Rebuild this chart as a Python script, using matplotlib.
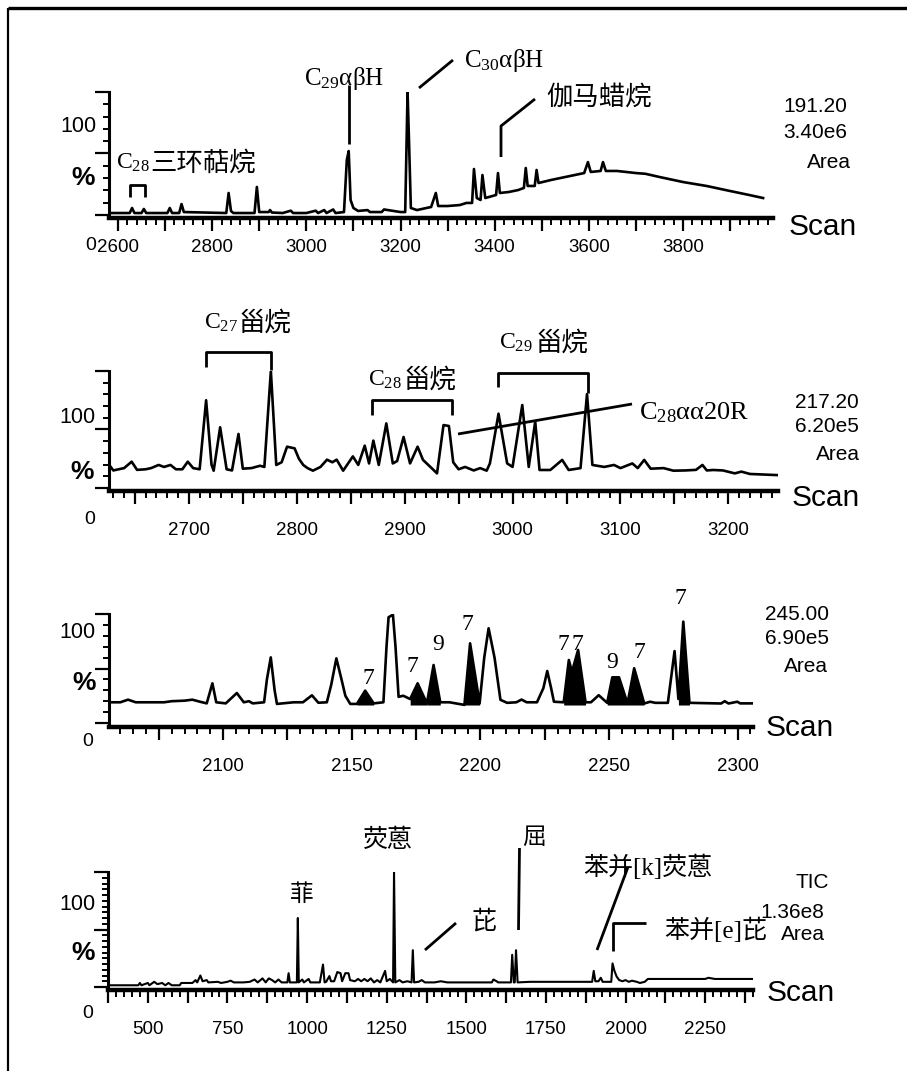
import numpy as np
import matplotlib
matplotlib.use('Agg')
import matplotlib.pyplot as plt
from matplotlib.lines import Line2D

plt.rcParams['mathtext.fontset'] = 'custom'
plt.rcParams['mathtext.rm'] = 'Liberation Serif'
plt.rcParams['mathtext.it'] = 'Liberation Serif:italic'
plt.rcParams['mathtext.bf'] = 'Liberation Serif:bold'

# ---- data (scan, relative %) ----
# m/z 191 (hopanes)
p1_scan = [2581, 2625, 2630, 2635, 2650, 2655, 2660, 2705, 2710, 2715, 2730, 2735, 2740,
           2830, 2835, 2840, 2845, 2890, 2895, 2900, 2920, 2923, 2927, 2950, 2967, 2972,
           3000, 3020, 3025, 3038, 3043, 3057, 3062, 3080, 3086, 3090, 3094, 3100, 3110,
           3130, 3135, 3160, 3165, 3200, 3210, 3215, 3218, 3222, 3235, 3255, 3265, 3275,
           3280, 3300, 3326, 3340, 3352, 3356, 3362, 3370, 3374, 3380, 3395, 3403, 3407,
           3411, 3430, 3450, 3462, 3466, 3470, 3485, 3489, 3493, 3520, 3550, 3590, 3598,
           3604, 3625, 3630, 3636, 3660, 3700, 3720, 3750, 3800, 3850, 3900, 3940, 3970]
p1_val = [1.6, 1.6, 5.7, 1.6, 1.6, 4.9, 1.6, 1.6, 5.7, 1.6, 1.6, 8.9, 2.4,
          1.6, 17.9, 3.3, 1.6, 1.6, 22.8, 2.4, 2.4, 4.0, 2.0, 1.6, 3.5, 1.6,
          1.6, 3.5, 1.6, 4.0, 1.6, 4.5, 1.6, 2.4, 44.7, 52.0, 12.2, 5.7, 3.3,
          4.0, 2.4, 2.4, 4.5, 2.4, 2.4, 100.0, 61.0, 5.7, 4.0, 5.7, 6.5, 17.9,
          7.3, 7.3, 8.1, 9.8, 9.8, 37.4, 13.8, 12.2, 32.5, 13.8, 15.4, 16.3, 34.1,
          17.9, 18.7, 20.3, 22.0, 38.2, 23.6, 23.6, 36.6, 26.0, 28.5, 30.9, 34.1, 43.0,
          35.0, 35.8, 43.0, 35.8, 35.8, 34.1, 33.5, 30.9, 26.8, 23.6, 19.5, 16.3, 13.8]

# m/z 217 (steranes)
p2_scan = [2626, 2630, 2640, 2647, 2652, 2660, 2665, 2672, 2677, 2683, 2688, 2694, 2699,
           2704, 2710, 2716, 2721, 2723, 2729, 2735, 2740, 2746, 2750, 2758, 2766, 2770,
           2776, 2781, 2786, 2791, 2798, 2802, 2806, 2810, 2815, 2822, 2828, 2833, 2837,
           2843, 2852, 2857, 2863, 2867, 2871, 2876, 2883, 2889, 2893, 2899, 2905, 2912,
           2917, 2925, 2930, 2936, 2941, 2945, 2950, 2956, 2964, 2970, 2976, 2979, 2987,
           2995, 3000, 3009, 3015, 3021, 3025, 3035, 3046, 3052, 3063, 3069, 3074, 3085,
           3094, 3100, 3111, 3116, 3122, 3128, 3140, 3149, 3160, 3170, 3176, 3180, 3186,
           3195, 3206, 3212, 3220, 3246]
p2_val = [20, 15, 17, 22.5, 15.5, 16, 17, 19.7, 18, 19.7, 16, 16, 22.5,
          17, 16, 75, 20, 14.8, 51.9, 16, 15, 46.2, 16.5, 17, 19, 18,
          100, 19.7, 22, 35.3, 33.9, 25, 19.7, 17, 14.8, 18, 24.2, 22, 24.2,
          14.8, 27, 19.7, 36.2, 21, 40.5, 19.7, 55.2, 21, 23, 43.6, 21, 35.3,
          24, 17, 12.5, 53.8, 53, 22, 16, 18, 15, 17, 14.8, 21, 63.5,
          21, 18, 70.9, 18, 56.7, 15.4, 15.4, 24, 15.4, 17, 80.3, 19.7, 18,
          19.7, 17, 21, 17, 24, 16.5, 17, 14.8, 15, 15.5, 19.7, 15, 15.4,
          15, 12.5, 14, 12, 11]

# m/z 245
p3_scan = [2055.6, 2060, 2063, 2066, 2068, 2077, 2080, 2085, 2088, 2091, 2093.6, 2095.8,
           2097.3, 2101, 2105.3, 2108, 2110, 2111.5, 2115.9, 2117, 2118.5, 2120, 2120.9,
           2127.4, 2131, 2134.5, 2137, 2140.3, 2142, 2144, 2146, 2147.5, 2149.4, 2152,
           2155.2, 2158.5, 2162.3, 2163.5, 2164.3, 2166, 2167, 2168.2, 2170, 2172.7,
           2175.6, 2179.2, 2181.8, 2184.4, 2188, 2193.8, 2196, 2199.7, 2201.5, 2203.2,
           2205.5, 2207.8, 2210.4, 2214, 2216, 2218, 2222, 2224.5, 2226, 2227.5, 2228.6,
           2232.4, 2234.4, 2235.6, 2238, 2240.9, 2243, 2246, 2249.3, 2251.3, 2253.9,
           2257.2, 2259.8, 2263.7, 2266, 2268, 2272.9, 2275.5, 2277, 2278.9, 2281.3,
           2293.6, 2295, 2296.5, 2299.9, 2301, 2306]
p3_val = [19, 19, 21.4, 19, 19, 19, 20, 20.5, 21.4, 19.5, 18, 36.4,
          19, 18, 27.5, 19, 20, 18, 19, 40, 60.2, 30, 17.5,
          19, 19, 25.4, 18.6, 19, 35, 59.3, 40, 25, 17.5, 17.5,
          29.7, 18, 19, 70, 97, 99.4, 70, 24, 25, 22,
          36.4, 18, 53.2, 19, 19, 16.6, 73.1, 18, 60, 86.9,
          60, 21.3, 18.5, 19, 21.5, 19, 19, 32, 47.7, 32, 19.5,
          19, 57.8, 47, 67, 19, 19, 25.5, 18.5, 41.9, 41.9,
          17.9, 50.2, 17.9, 19.5, 18.5, 18.5, 66, 22, 93, 18.5,
          17.9, 20, 17.9, 19.5, 18, 18]
# shaded (odd-numbered) peaks: scan ranges
p3_fill = [(2151, 2159), (2172, 2179.2), (2179.2, 2185), (2193.8, 2200),
           (2232.4, 2241), (2249.3, 2257.2), (2257.2, 2264), (2277, 2281.3)]
p3_num = ['7', '7', '9', '7', '7', '7', '9', '7', '7']

# TIC
p4_scan = [375, 470, 475, 480, 500, 505, 520, 530, 545, 555, 565, 575, 600, 605, 640, 650,
           655, 665, 672, 685, 690, 720, 730, 750, 760, 770, 800, 820, 835, 845, 860, 870,
           880, 890, 900, 910, 920, 938, 942, 946, 960, 968, 971, 974, 985, 990, 1005, 1010,
           1040, 1050, 1055, 1060, 1070, 1075, 1085, 1095, 1105, 1110, 1120, 1130, 1135,
           1150, 1160, 1170, 1180, 1190, 1200, 1210, 1220, 1230, 1245, 1250, 1260, 1270,
           1273, 1277, 1290, 1300, 1315, 1328, 1332, 1336, 1350, 1360, 1370, 1400, 1420,
           1440, 1500, 1580, 1585, 1595, 1600, 1640, 1644, 1649, 1652, 1656, 1661, 1700,
           1800, 1895, 1900, 1905, 1915, 1922, 1928, 1955, 1959, 1965, 1972, 1980, 1990,
           2000, 2010, 2020, 2035, 2045, 2060, 2070, 2250, 2260, 2280, 2400]
p4_val = [1.5, 1.5, 3.5, 1.5, 3.5, 1.5, 4.5, 2.5, 3.5, 1.5, 3.5, 1.5, 1.5, 3.5, 3.5, 6,
          4, 10, 5, 6, 4, 4.5, 3.5, 4.5, 5.5, 4, 4, 4.5, 6.5, 4, 7.5, 4,
          7.5, 6, 4, 6.5, 4, 4, 12, 4, 4, 4, 60, 4, 6.5, 4, 7, 4,
          4, 19.5, 4, 4.5, 9.5, 5, 5, 13, 12, 5, 12, 12, 6,
          5, 7, 5, 7, 5, 7.5, 4, 6, 4, 14, 5, 7, 4,
          100, 4, 6, 4, 5, 4, 32, 4, 4.5, 6, 4, 4, 5,
          4, 4, 4, 6.5, 5, 4, 4, 28, 4, 4, 32, 4, 4.5,
          4.5, 4.5, 14, 5, 5, 8, 4.5, 4.5, 20.5, 14, 9, 6, 5,
          6, 4.5, 5.5, 4.5, 3.5, 4.5, 7, 7, 8, 7, 7]

W, H = 907, 1071
fig = plt.figure(figsize=(W / 100, H / 100), dpi=100)

SANS = 'Liberation Sans'
SERIF = 'Liberation Serif'
CJK = [SERIF, 'Noto Sans CJK SC']


def fx(x):
    return x / W


def fy(y):
    return 1 - y / H


def ftext(x, y, s, size, family=SANS, ha='center', **kw):
    fig.text(fx(x), fy(y), s, fontsize=size, family=family, ha=ha, va='center', **kw)


def fline(xs, ys, lw=1.6):
    fig.add_artist(Line2D([fx(v) for v in xs], [fy(v) for v in ys], color='black',
                          lw=lw, transform=fig.transFigure, solid_capstyle='butt'))


def make_axes(left, right, top, zero, xaxis, xlim, long_step, minor_step, labels,
              ymin_step, pad):
    ax = fig.add_axes([fx(left), fy(xaxis), fx(right) - fx(left), fy(top) - fy(xaxis)])
    ppp = (zero - top) / 100.0
    ax.set_ylim(-(xaxis - zero) / ppp, 100)
    ax.set_xlim(*xlim)
    for s in ['top', 'right']:
        ax.spines[s].set_visible(False)
    ax.spines['left'].set_bounds(0, 100)
    ax.spines['left'].set_linewidth(2.2)
    ax.spines['bottom'].set_linewidth(3.2)
    first = np.ceil(xlim[0] / long_step) * long_step
    longs = np.arange(first, xlim[1] + 0.01, long_step)
    ax.set_xticks(longs)
    ax.set_xticklabels([str(int(v)) if int(v) in labels else '' for v in longs],
                       fontsize=13.5, family=SANS)
    first_m = np.ceil(xlim[0] / minor_step) * minor_step
    ax.set_xticks(np.arange(first_m, xlim[1] + 0.01, minor_step), minor=True)
    ax.set_yticks([0, 50, 100])
    ax.set_yticklabels([])
    ax.set_yticks(np.arange(0, 100.1, ymin_step), minor=True)
    ax.tick_params(axis='x', which='major', direction='out', length=9, width=1.6, pad=pad)
    ax.tick_params(axis='x', which='minor', direction='out', length=5, width=1.4)
    ax.tick_params(axis='y', which='major', direction='out', length=10, width=1.6)
    ax.tick_params(axis='y', which='minor', direction='out', length=4.5, width=1.4)
    ax.patch.set_alpha(0)
    return ax


# frame
fline([8, 907], [8, 8], lw=2.4)
fline([8, 8], [8, 1071], lw=1.6)

# ---------- panel 1: m/z 191 ----------
ax1 = make_axes(109, 773, 92, 215, 218, (2581, 3991), 100, 20,
                [2600, 2800, 3000, 3200, 3400, 3600, 3800], 10, 6)
ax1.plot(p1_scan, p1_val, color='black', lw=1.9)
ftext(78, 127, '100', 15.5)
ftext(83, 178, '%', 19, weight='bold')
ftext(91, 246, '0', 14)
ftext(815, 106, '191.20', 15)
ftext(815, 133, '3.40e6', 15)
ftext(851, 162, 'Area', 15, ha='right')
ftext(789, 227, 'Scan', 21.5, ha='left')
ftext(116, 163, r'C$_{28}$', 17, family=SERIF, ha='left')
ftext(150, 163, '三环萜烷', 19, family=CJK, ha='left')
fline([130, 130, 145, 145], [197, 185, 185, 197], lw=2)
ftext(304, 78, r'C$_{29}$αβH', 18, family=SERIF, ha='left')
fline([349, 349], [85, 144], lw=2)
ftext(464, 60, r'C$_{30}$αβH', 18, family=SERIF, ha='left')
fline([419, 453], [88, 60], lw=2)
ftext(546, 97, '伽马蜡烷', 19, family=CJK, ha='left')
fline([501, 501, 535], [157, 126, 99], lw=2)

# ---------- panel 2: m/z 217 ----------
ax2 = make_axes(109, 778, 371, 488, 491, (2626, 3246), 50, 10,
                [2700, 2800, 2900, 3000, 3100, 3200], 10, 13)
ax2.plot(p2_scan, p2_val, color='black', lw=1.9)
ftext(77, 418, '100', 15.5)
ftext(82, 472, '%', 19, weight='bold')
ftext(90, 520, '0', 14)
ftext(827, 402, '217.20', 15)
ftext(827, 427, '6.20e5', 15)
ftext(860, 455, 'Area', 15, ha='right')
ftext(792, 498, 'Scan', 21.5, ha='left')
ftext(204, 323, r'C$_{27}$', 17, family=SERIF, ha='left')
ftext(239, 323, '甾烷', 19, family=CJK, ha='left')
fline([206, 206, 271, 271], [367, 352, 352, 370], lw=2)
ftext(368, 380, r'C$_{28}$', 17, family=SERIF, ha='left')
ftext(403, 380, '甾烷', 19, family=CJK, ha='left')
fline([372, 372, 452, 452], [415, 400, 400, 415], lw=2)
ftext(499, 343, r'C$_{29}$', 17, family=SERIF, ha='left')
ftext(536, 343, '甾烷', 19, family=CJK, ha='left')
fline([498, 498, 588, 588], [387, 373, 373, 393], lw=2)
ftext(639, 413, r'C$_{28}$αα20R', 19, family=SERIF, ha='left')
fline([458, 632], [434, 404], lw=2)

# ---------- panel 3: m/z 245 ----------
ax3 = make_axes(109, 753, 614, 723, 727, (2055.6, 2306), 25, 5,
                [2100, 2150, 2200, 2250, 2300], 10, 13)
s3 = np.array(p3_scan)
v3 = np.array(p3_val)
for a, b in p3_fill:
    m = (s3 >= a) & (s3 <= b)
    ax3.fill_between(s3[m], v3[m], 16.5, color='black', lw=0)
ax3.plot(p3_scan, p3_val, color='black', lw=1.9)
ftext(77, 633, '100', 15.5)
ftext(84, 683, '%', 19, weight='bold')
ftext(88, 742, '0', 14)
ftext(797, 614, '245.00', 15)
ftext(797, 639, '6.90e5', 15)
ftext(828, 666, 'Area', 15, ha='right')
ftext(766, 728, 'Scan', 21.5, ha='left')
num_pos = [(368, 678), (412, 666), (438, 644), (467, 625), (563, 644), (577, 644),
           (612, 662), (639, 653), (680, 599)]
for (x, y), t in zip(num_pos, p3_num):
    ftext(x, y, t, 17, family=SERIF)

# ---------- panel 4: TIC ----------
ax4 = make_axes(108, 753, 872, 987, 990, (375, 2400), 125, 25,
                [500, 750, 1000, 1250, 1500, 1750, 2000, 2250], 5, 13)
ax4.plot(p4_scan, p4_val, color='black', lw=1.5)
ftext(77, 905, '100', 15.5)
ftext(83, 953, '%', 19, weight='bold')
ftext(88, 1013, '0', 14)
ftext(812, 883, 'TIC', 15)
ftext(792, 912, '1.36e8', 15)
ftext(825, 935, 'Area', 15, ha='right')
ftext(767, 993, 'Scan', 21.5, ha='left')
ftext(302, 895, '菲', 17, family=CJK)
ftext(388, 840, '荧蒽', 18, family=CJK)
ftext(484, 922, '芘', 18, family=CJK)
fline([425, 456], [950, 923], lw=2)
ftext(534, 839, '屈', 17, family=CJK)
fline([518.5, 519.5], [930, 848], lw=2)
ftext(648, 867, '苯并[k]荧蒽', 18, family=CJK)
fline([597, 628], [950, 867], lw=2)
ftext(716, 930, '苯并[e]芘', 18, family=CJK)
fline([613, 613, 646], [951, 923, 923], lw=2)

fig.savefig('out.png', dpi=100)
